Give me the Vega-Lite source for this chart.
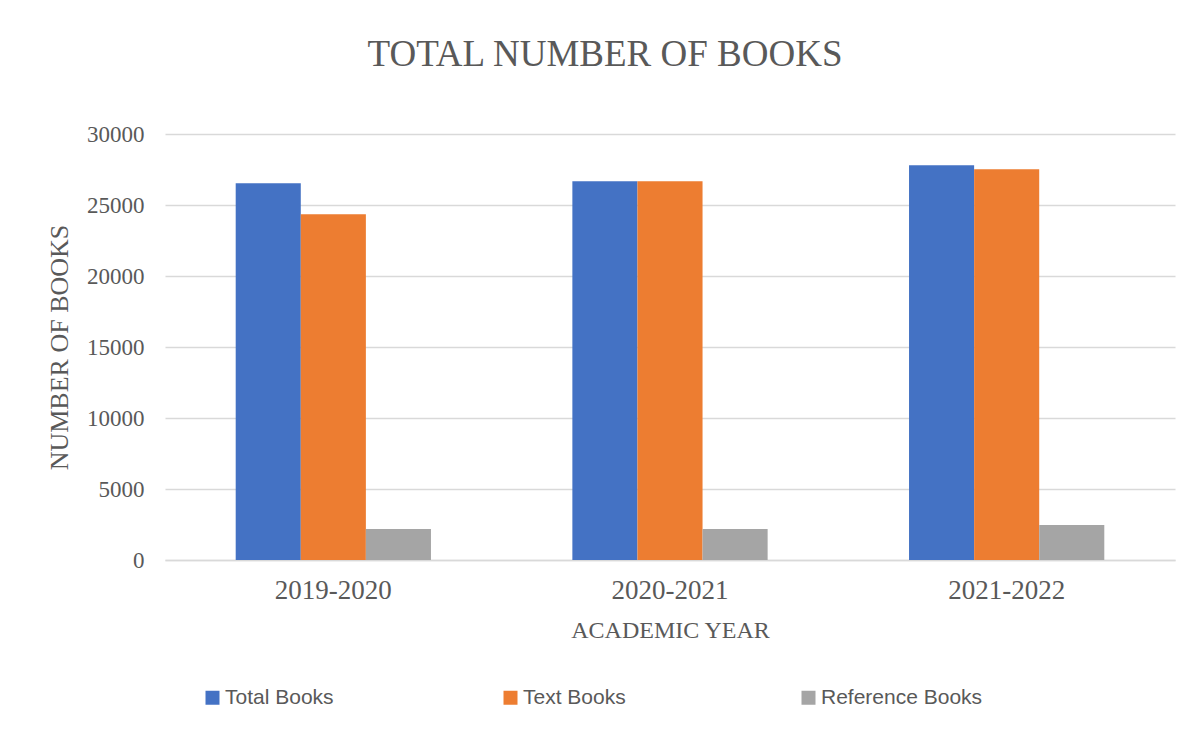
{
  "$schema": "https://vega.github.io/schema/vega-lite/v6.json",
  "width": 1010,
  "height": 426,
  "autosize": {"type": "none"},
  "padding": {"left": 165, "top": 134, "right": 17, "bottom": 171},
  "background": "white",
  "title": {
    "text": "TOTAL NUMBER OF BOOKS",
    "font": "Liberation Serif",
    "fontSize": 37,
    "fontWeight": "normal",
    "color": "#595959",
    "anchor": "middle",
    "baseline": "alphabetic",
    "offset": 20,
    "dx": -65
  },
  "data": {
    "values": [
      {"year": "2019-2020", "series": "Total Books", "books": 26530},
      {"year": "2019-2020", "series": "Text Books", "books": 24350},
      {"year": "2019-2020", "series": "Reference Books", "books": 2180},
      {"year": "2020-2021", "series": "Total Books", "books": 26670},
      {"year": "2020-2021", "series": "Text Books", "books": 26670},
      {"year": "2020-2021", "series": "Reference Books", "books": 2180},
      {"year": "2021-2022", "series": "Total Books", "books": 27800},
      {"year": "2021-2022", "series": "Text Books", "books": 27510},
      {"year": "2021-2022", "series": "Reference Books", "books": 2470}
    ]
  },
  "mark": {"type": "bar"},
  "encoding": {
    "x": {
      "field": "year",
      "type": "nominal",
      "scale": {"paddingInner": 0.42, "paddingOuter": 0.21},
      "axis": {
        "title": "ACADEMIC YEAR",
        "labelAngle": 0,
        "labelFont": "Liberation Serif",
        "labelFontSize": 27,
        "labelColor": "#595959",
        "labelPadding": 17,
        "ticks": false,
        "domainColor": "#D9D9D9",
        "domainWidth": 1.5,
        "titleFont": "Liberation Serif",
        "titleFontSize": 24,
        "titleFontWeight": "normal",
        "titleColor": "#595959",
        "titlePadding": 15,
        "grid": false
      }
    },
    "xOffset": {
      "field": "series",
      "type": "nominal",
      "sort": ["Total Books", "Text Books", "Reference Books"],
      "scale": {"paddingInner": 0, "paddingOuter": 0}
    },
    "y": {
      "field": "books",
      "type": "quantitative",
      "scale": {"domain": [0, 30000]},
      "axis": {
        "title": "NUMBER OF BOOKS",
        "values": [0, 5000, 10000, 15000, 20000, 25000, 30000],
        "format": "d",
        "labelFont": "Liberation Serif",
        "labelFontSize": 23,
        "labelColor": "#595959",
        "labelPadding": 21,
        "ticks": false,
        "domain": false,
        "gridColor": "#D9D9D9",
        "gridWidth": 1.3,
        "titleFont": "Liberation Serif",
        "titleFontSize": 26,
        "titleFontWeight": "normal",
        "titleColor": "#595959",
        "titlePadding": 14
      }
    },
    "color": {
      "field": "series",
      "type": "nominal",
      "sort": ["Total Books", "Text Books", "Reference Books"],
      "scale": {
        "domain": ["Total Books", "Text Books", "Reference Books"],
        "range": ["#4472C4", "#ED7D31", "#A5A5A5"]
      },
      "legend": {
        "title": null,
        "orient": "none",
        "direction": "horizontal",
        "legendX": 37,
        "legendY": 553,
        "padding": 0,
        "symbolType": "square",
        "symbolSize": 196,
        "symbolStrokeWidth": 0,
        "symbolOpacity": 1,
        "labelFont": "Liberation Sans",
        "labelFontSize": 21,
        "labelColor": "#595959",
        "labelOffset": 2,
        "gridAlign": "all",
        "columnPadding": 113,
        "labelLimit": 300
      }
    }
  },
  "config": {
    "view": {"stroke": null}
  }
}
